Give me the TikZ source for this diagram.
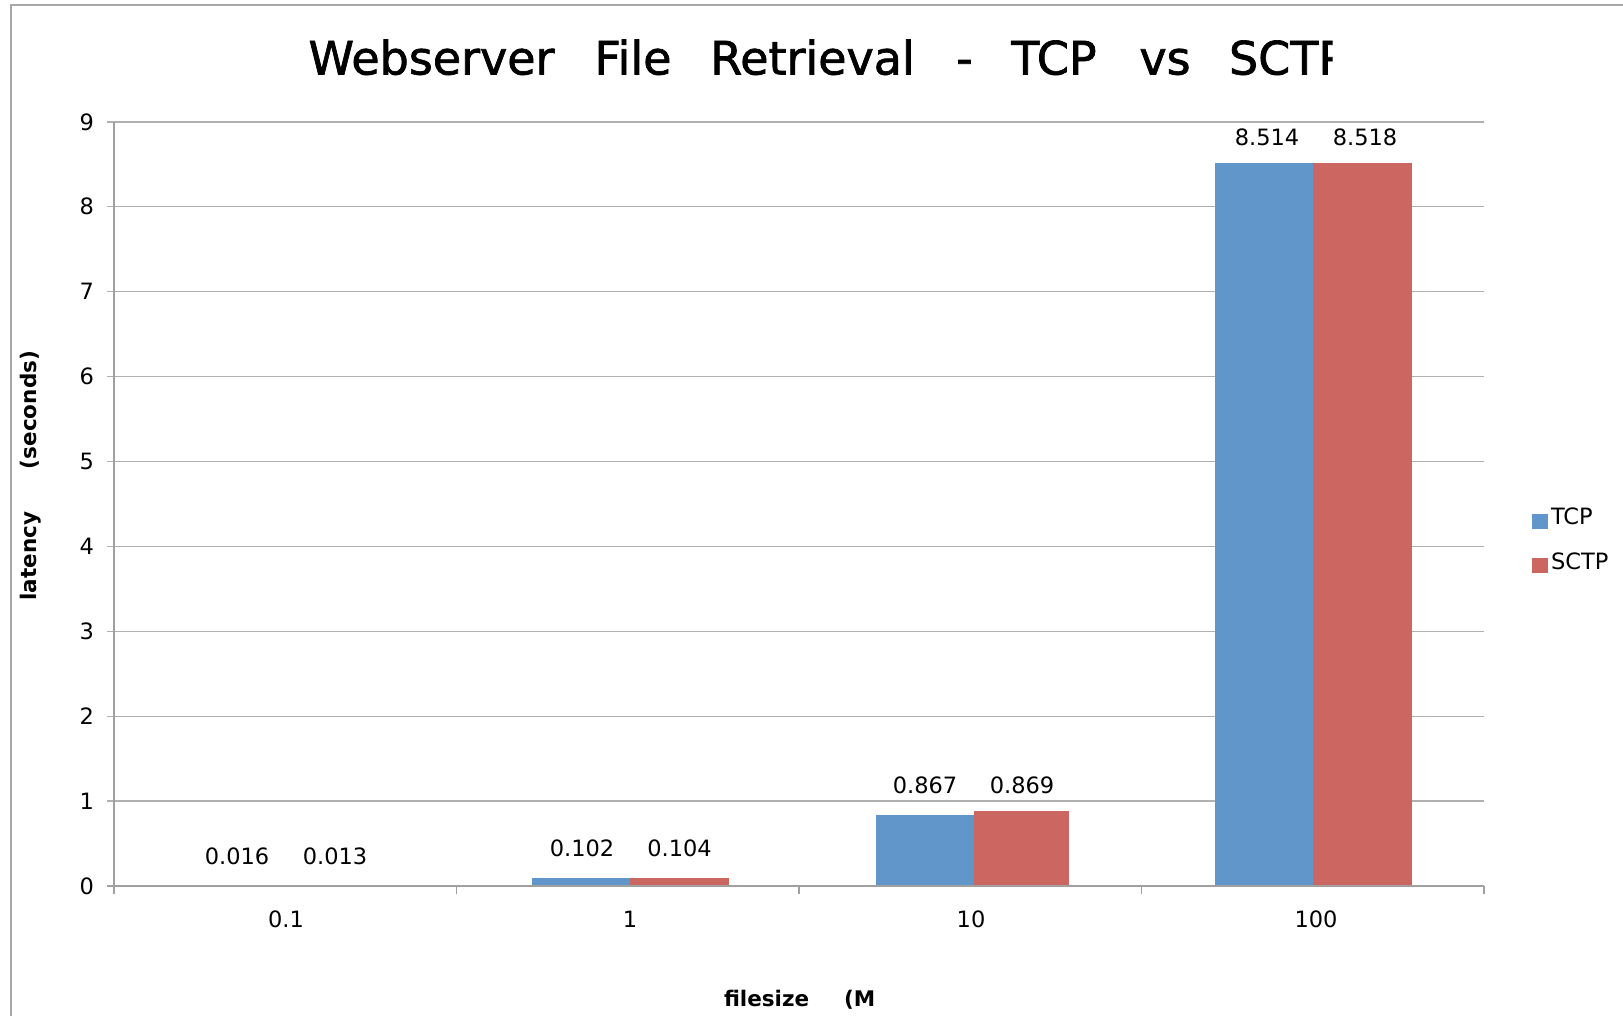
\documentclass[tikz,border=0pt]{standalone}
\usepackage{fontspec}
\setmainfont{DejaVu Sans}
\newfontfamily\charttitlefont[FakeBold=1.5]{DejaVu Sans}
\definecolor{tcpblue}{RGB}{96,150,201}
\definecolor{sctpred}{RGB}{204,102,96}
\definecolor{gridgray}{RGB}{176,176,176}
\definecolor{axisgray}{RGB}{160,160,160}
\definecolor{framegray}{RGB}{168,168,168}
\begin{document}
\begin{tikzpicture}[x=1pt,y=-1pt,
  every node/.style={inner sep=0pt, outer sep=0pt},
  gridline/.style={draw=gridgray, line width=1.3pt},
  axisline/.style={draw=axisgray, line width=1.3pt},
  titletext/.style={font=\charttitlefont\fontsize{46}{50}\selectfont},
  ticklabel/.style={font=\fontsize{22.5}{26}\selectfont},
  valuelabel/.style={font=\fontsize{22.5}{26}\selectfont, anchor=base},
  axistitle/.style={font=\fontsize{21.5}{25}\selectfont\bfseries},
  legendtext/.style={font=\fontsize{22.5}{26}\selectfont, anchor=base west}]
\useasboundingbox (0,0) rectangle (1623,1016);
\fill[white] (0,0) rectangle (1623,1016);

% outer chart frame (top and left edges)
\draw[framegray, line width=2pt] (10.7,1030) -- (10.7,4.7) -- (1640,4.7);

% title
\node[titletext, anchor=base] (w1) at (431.5,74.5) {Webserver};
\node[titletext, anchor=base] (w2) at (633,74.5) {File};
\node[titletext, anchor=base] (w3) at (812.5,74.5) {Retrieval};
\node[titletext, anchor=base] (w4) at (964.5,74.5) {-};
\node[titletext, anchor=base] (w5) at (1054,74.5) {TCP};
\node[titletext, anchor=base] (w6) at (1165,74.5) {vs};
\begin{scope}
  \clip (1200,0) rectangle (1332.5,120);
  \node[titletext, anchor=base west] (w7) at (1229,74.5) {SCTP};
\end{scope}

% horizontal grid lines and value-axis labels
\foreach \k in {1,...,9}
  \draw[gridline] (107,{886-84.9*\k}) -- (1484,{886-84.9*\k});
\foreach \k in {0,...,9}
  \node[ticklabel, anchor=east] (ylab\k) at (94,{886-84.9*\k}) {\k};

% bars: 1 MB
\fill[tcpblue] (532,886) rectangle (630,877.7);
\fill[sctpred] (630,886) rectangle (729,877.7);
% bars: 10 MB
\fill[tcpblue] (876,886) rectangle (974,815);
\fill[sctpred] (974,886) rectangle (1069,811);
% bars: 100 MB
\fill[tcpblue] (1215,886) rectangle (1313,163);
\fill[sctpred] (1313,886) rectangle (1411.7,163);

% axes
\draw[axisline] (114,121.9) -- (114,894);
\draw[axisline] (107,886) -- (1484,886);
\foreach \x in {456.5,799,1141.5,1484}
  \draw[axisline] (\x,886) -- (\x,894);

% value labels
\node[valuelabel] (v1) at (237,864) {0.016};
\node[valuelabel] (v2) at (335,864) {0.013};
\node[valuelabel] (v3) at (582,856.7) {0.102};
\node[valuelabel] (v4) at (679.5,856.7) {0.104};
\node[valuelabel] (v5) at (925,793.3) {0.867};
\node[valuelabel] (v6) at (1022,793.3) {0.869};
\node[valuelabel] (v7) at (1267,146) {8.514};
\node[valuelabel] (v8) at (1365,146) {8.518};

% category labels
\node[valuelabel] (c1) at (286,927) {0.1};
\node[valuelabel] (c2) at (630,927) {1};
\node[valuelabel] (c3) at (971,927) {10};
\node[valuelabel] (c4) at (1316,927) {100};

% axis titles
\node[axistitle, anchor=base west] (xt1) at (724,1006.7) {filesize};
\node[axistitle, anchor=base west] (xt2) at (844,1006.7) {(M};
\node[axistitle, anchor=base, rotate=90] (yt1) at (36.7,556) {latency};
\node[axistitle, anchor=base, rotate=90] (yt2) at (36.7,410) {(seconds)};

% legend
\fill[tcpblue] (1532,514) rectangle (1548,529);
\node[legendtext] (l1) at (1551,524.3) {TCP};
\fill[sctpred] (1532,557.7) rectangle (1548,572.7);
\node[legendtext] (l2) at (1551,569) {SCTP};
\end{tikzpicture}
\end{document}
